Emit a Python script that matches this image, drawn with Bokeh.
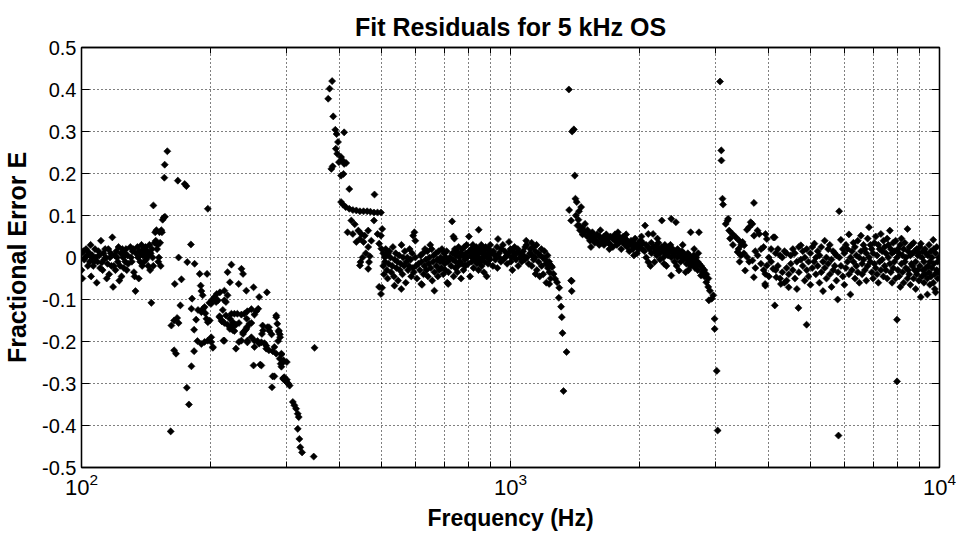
import numpy as np
from bokeh.plotting import figure
from bokeh.models import (FixedTicker, LogAxis, LinearAxis, CustomJSTickFormatter,
                          LogTickFormatter, Range1d)
from bokeh.embed import file_html
from bokeh.resources import INLINE

# ---- tick values ----
x_major_ticks = [100, 1000, 10000]
x_minor_ticks = [200, 300, 400, 500, 600, 700, 800, 900,
                 2000, 3000, 4000, 5000, 6000, 7000, 8000, 9000]
y_ticks = [-0.5, -0.4, -0.3, -0.2, -0.1, 0.0, 0.1, 0.2, 0.3, 0.4, 0.5]

# ---- data: (frequency Hz, fractional error) ----
seg_low = [
    (100, 0.01), (100, -0.03), (100.5, -0.05), (101, 0.015), (101.5, -0.005), (102, 0.0),
    (102.5, 0.02), (103, 0.005), (103.5, -0.02), (104, 0.012), (104.5, -0.01), (105, 0.03),
    (105.3, -0.045), (105.7, 0.0), (106, 0.005), (106.5, -0.02), (107, -0.01), (107.5, 0.02),
    (108, 0.0), (108.5, -0.06), (109, -0.01), (109.5, 0.015), (110, 0.005), (110.5, -0.025),
    (111, 0.04), (111.5, -0.012), (112, -0.03), (112.5, 0.01), (113, -0.005), (113.5, 0.02),
    (114, 0.0), (114.5, -0.05), (115, -0.015), (115.5, 0.02), (116, -0.04), (116.5, 0.0),
    (117, 0.01), (117.5, -0.02), (118, 0.048), (118.5, -0.07), (119, -0.02), (119.5, 0.005),
    (120, -0.03), (120.5, 0.015), (121, 0.0), (121.5, -0.01), (122, 0.025), (122.5, -0.055),
    (123, -0.02), (123.5, 0.01), (124, -0.045), (124.5, 0.02), (125, 0.0), (125.5, -0.025),
    (126, 0.01), (126.5, -0.01), (127, 0.02), (127.5, -0.03), (128, 0.005), (128.5, -0.015),
    (130, 0.025), (130.5, 0.0), (131, -0.01), (131.5, 0.015), (132, 0.02), (132.5, -0.035),
    (133, -0.045), (133.6, -0.08), (134, 0.01), (135, 0.025), (135.5, 0.0), (136, -0.05),
    (136.5, 0.015), (137, -0.01), (137.5, 0.01), (138, 0.03), (138.5, -0.02), (139, 0.005),
    (139.5, 0.02), (140, -0.01), (140.5, 0.01), (141, 0.025), (141.5, -0.005), (142, 0.0),
    (142.5, 0.015), (143, -0.02), (143.5, 0.005), (144, 0.03), (144.5, -0.03), (145, 0.01),
    (145.5, -0.108), (146, 0.02), (146.5, 0.0), (147, -0.02), (147.1, 0.124), (148, 0.035),
    (148.5, 0.06), (149, 0.04), (149.5, 0.065), (150, 0.02), (150.5, 0.03), (151, -0.01),
    (151.5, 0.0), (152, 0.06), (152.5, 0.035), (153, -0.02), (153.5, 0.065), (154, 0.06),
    (154.6, 0.09), (155.5, 0.095), (156.5, 0.097), (156, 0.19), (156.3, 0.221), (158.5, 0.253),
]

seg_drop = [
    (162, -0.162), (164.4, -0.15), (167.1, -0.144), (168.4, -0.156), (164.4, -0.221),
    (166.1, -0.229), (165, -0.063), (168.4, 0.0), (171, -0.052), (170, -0.114), (176.4, -0.011),
    (179.9, 0.031), (181, -0.098), (180.4, -0.122), (183.5, -0.015), (183, -0.172), (185, -0.148),
    (180.4, -0.259), (183, -0.223), (188.6, -0.039), (189.6, -0.067), (190.3, -0.08),
    (191.6, -0.09), (192, -0.122), (186.9, -0.125), (194.4, -0.133), (195.6, -0.146),
    (196.2, -0.039), (186.3, -0.199), (190.3, -0.206), (196.9, -0.198), (199, -0.15),
    (200.6, -0.19), (202.4, -0.215), (198.6, -0.108), (201.3, -0.101), (204.1, -0.094),
    (206.6, -0.087), (208, -0.102), (210.2, -0.083), (215.3, -0.079), (219, -0.09),
    (217.1, -0.106), (213.5, -0.125), (209.8, -0.14), (212.4, -0.152), (215.3, -0.156),
    (219, -0.16), (214.2, -0.198), (219, -0.035), (223.6, -0.017), (221.8, -0.059), (236, -0.027),
    (238, -0.039), (232.5, -0.063), (223.6, -0.134), (227.2, -0.134), (230.9, -0.134),
    (235.9, -0.136), (239.7, -0.134), (243.6, -0.128), (248.9, -0.123), (221.8, -0.146),
    (225.4, -0.154), (229.1, -0.16), (232.8, -0.156), (224.4, -0.167), (227.2, -0.175),
    (229.1, -0.217), (238, -0.182), (240.6, -0.174), (242.8, -0.166), (235.9, -0.198),
    (243.6, -0.202), (248.9, -0.19), (253, -0.198), (257.2, -0.199), (262.6, -0.202),
    (267, -0.204), (269.6, -0.21), (242.2, -0.079), (251.8, -0.071), (242.8, -0.146),
    (248.9, -0.156), (253, -0.136), (255.6, -0.128), (258.2, -0.122), (259.5, -0.094),
    (270.5, -0.083), (251.8, -0.257), (262.6, -0.257), (263.4, -0.182), (265, -0.174),
    (271.3, -0.166), (274.3, -0.175), (277.4, -0.183), (281.6, -0.213), (284.4, -0.229),
    (284.4, -0.142), (288.2, -0.174), (289.9, -0.183), (287.3, -0.199), (292.4, -0.231),
    (291.3, -0.253), (295.8, -0.245), (281.6, -0.283), (295.3, -0.287), (301, -0.291),
    (190.3, -0.13), (193.6, -0.118), (200.6, -0.11), (206, -0.106), (215.3, -0.102),
    (197, -0.154), (209.8, -0.142), (212.4, -0.15), (217.1, -0.138), (223.6, -0.162),
    (225.4, -0.173), (221.8, -0.17), (238, -0.178), (242.2, -0.17), (246.3, -0.158),
    (264.4, -0.162), (273.5, -0.166), (284.4, -0.138), (286, -0.158), (288.2, -0.177),
    (290.4, -0.19), (193.6, -0.201), (200.6, -0.201), (202.4, -0.213), (215.3, -0.198),
    (232.8, -0.201), (243.6, -0.198), (253, -0.213), (259.5, -0.205), (269.6, -0.217),
    (273.5, -0.221), (279, -0.223), (292.4, -0.229), (289.9, -0.241), (295.3, -0.249),
    (301, -0.249), (261, -0.255), (292.4, -0.26), (279, -0.283), (278, -0.309),
    (295.3, -0.289), (297.9, -0.292), (301, -0.297), (303.2, -0.3), (305.6, -0.305),
    (297, -0.285), (310.9, -0.344), (313.5, -0.352), (316.4, -0.36), (319.2, -0.372),
    (320.9, -0.38), (319.2, -0.408), (322, -0.432), (323.6, -0.452), (326.7, -0.464),
    (347.8, -0.474), (161.4, -0.414), (176, -0.31), (178, -0.35), (197, 0.116),
    (167.7, 0.183), (174, 0.175), (175.6, 0.17), (349.3, -0.215),
]

seg_jump1 = [
    (383.9, 0.42), (378.7, 0.402), (375.9, 0.378), (386.2, 0.336), (390.5, 0.304),
    (393.2, 0.294), (409.5, 0.298), (396.2, 0.275), (391.6, 0.259), (394.6, 0.247),
    (402.8, 0.239), (406.1, 0.231), (409.5, 0.223), (398.2, 0.227), (385, 0.217),
    (382.3, 0.211), (413.9, 0.225), (402.8, 0.195), (408, 0.199), (420.9, 0.163),
    (481.9, 0.15), (402.8, 0.132), (406.7, 0.126), (413, 0.12), (420.9, 0.116), (429, 0.113),
    (437.2, 0.112), (445.7, 0.11), (454.4, 0.11), (463.3, 0.11), (471.6, 0.109),
    (480.6, 0.107), (489.8, 0.107), (499, 0.107), (425.6, 0.088), (433.5, 0.079),
    (441.9, 0.064), (449.1, 0.056), (457.3, 0.052), (465.9, 0.064), (480.6, 0.088),
    (417, 0.06), (429, 0.056), (445.7, 0.044), (454.4, 0.037), (437.2, 0.037), (489.8, 0.056),
    (499, 0.052), (502.3, 0.068), (465.9, 0.025), (473.8, 0.04), (494.2, 0.033), (500, 0.021),
    (445.7, -0.019), (465.9, -0.027), (447, -0.011), (452, 0.0), (460, 0.01), (470, 0.003),
    (468, -0.011), (508.9, 0.001), (518, 0.009), (494, -0.07), (502, -0.072), (499, -0.087),
    (536.5, -0.067), (556.5, -0.075), (619.5, -0.063), (664.6, -0.079), (715.7, -0.063),
]

seg_mid = [
    (505, 0.01), (505, -0.02), (507, -0.04), (510, -0.01), (512, 0.02), (515, -0.03),
    (515, 0.005), (517, -0.05), (520, -0.015), (522, 0.015), (525, 0.0), (527, -0.035),
    (530, -0.02), (532, 0.025), (535, -0.045), (537, -0.005), (540, 0.01), (542, -0.025),
    (545, -0.01), (547, -0.055), (550, 0.005), (552, -0.03), (555, -0.015), (557, 0.03),
    (560, -0.04), (562, 0.0), (565, -0.02), (567, 0.015), (570, -0.06), (572, -0.01),
    (575, 0.0), (577, -0.03), (580, -0.02), (582, 0.02), (585, -0.005), (587, -0.045),
    (590, 0.01), (592, -0.025), (595, -0.035), (597, 0.06), (593, 0.052), (600, 0.04),
    (600, 0.0), (602, -0.02), (605, -0.05), (610, -0.015), (615, -0.03), (617, 0.005),
    (620, -0.01), (622, -0.065), (625, 0.01), (627, -0.04), (630, -0.02), (632, 0.02),
    (635, -0.005), (637, -0.03), (640, 0.015), (642, -0.045), (645, -0.015), (647, 0.0),
    (650, 0.03), (652, -0.025), (655, 0.02), (657, -0.055), (660, -0.01), (662, 0.005),
    (665, -0.035), (670, 0.01), (672, -0.02), (675, -0.005), (677, -0.045), (680, 0.015),
    (682, -0.03), (685, -0.01), (687, 0.0), (690, -0.025), (692, 0.02), (695, -0.005),
    (697, -0.04), (700, 0.01), (702, -0.015), (705, -0.03), (707, 0.0), (710, 0.015),
    (712, -0.06), (715, -0.01), (717, -0.035), (731, 0.086), (722, 0.0), (736, 0.05),
    (727, -0.02), (740, 0.045), (732, 0.01), (735, -0.005), (737, -0.045), (742, 0.02),
    (744, -0.025), (745, -0.01), (747, 0.005), (750, 0.015), (752, -0.035), (755, -0.02),
    (757, 0.025), (760, 0.0), (762, -0.01), (765, 0.01), (767, -0.05), (770, -0.015),
    (772, 0.02), (775, 0.005), (777, -0.03), (780, 0.025), (782, -0.005), (785, -0.02),
    (787, 0.01), (790, 0.03), (792, 0.0), (843, 0.066), (797, -0.015), (800, 0.05),
    (802, 0.015), (805, -0.045), (807, 0.005), (810, 0.02), (812, -0.01), (815, 0.0),
    (817, 0.03), (820, -0.025), (822, 0.01), (825, 0.015), (827, -0.005), (830, 0.005),
    (832, 0.025), (835, -0.015), (837, 0.0), (840, 0.02), (842, -0.03), (845, 0.01),
    (847, -0.01), (850, -0.005), (852, 0.02), (855, 0.03), (857, -0.02), (860, 0.0),
    (862, 0.01), (865, 0.015), (867, -0.035), (870, -0.01), (872, 0.02), (875, 0.025),
    (877, 0.005), (880, -0.045), (882, 0.0), (885, 0.01), (887, -0.015), (890, 0.02),
    (892, 0.0), (895, -0.005), (897, 0.03), (935, 0.044), (902, 0.01), (910, -0.02),
    (912, 0.015), (920, 0.005), (922, -0.005), (930, 0.025), (932, -0.025), (940, 0.01),
    (942, 0.0), (950, -0.01), (952, 0.02), (960, 0.03), (962, -0.005), (970, 0.015),
    (972, 0.0), (980, 0.005), (982, -0.015), (992, 0.037), (990, 0.01), (1000, 0.02),
    (1002, -0.01), (1005, 0.0), (1010, -0.03), (1012, 0.015), (1020, 0.005), (1022, 0.025),
    (1030, -0.005), (1032, 0.01), (1040, 0.02), (1042, -0.02), (1050, 0.01), (1052, 0.0),
    (1088, 0.04), (1062, -0.01), (1070, 0.015), (1072, 0.005), (1080, -0.005), (1082, 0.025),
    (1090, 0.03), (1092, 0.0), (1120, 0.035), (1102, -0.015), (1110, 0.01), (1112, 0.02),
    (1121, -0.02), (1123, 0.005), (1130, 0.025), (1132, -0.005), (1140, 0.0), (1142, 0.015),
    (1150, 0.03), (1152, -0.03), (1160, 0.01), (1162, -0.01), (1170, -0.045), (1172, 0.005),
    (1180, 0.02), (1182, -0.02), (1190, 0.0), (1192, -0.04), (1200, 0.015), (1202, -0.005),
    (1210, -0.015), (1212, -0.06), (1220, 0.005), (1222, -0.025), (1230, -0.01),
    (1232, -0.035), (1144, -0.039),
    (1231, -0.063), (1299, -0.072), (1296, -0.096), (1312, -0.117), (1317, -0.142),
    (1322, -0.18), (1351, -0.225), (1329, -0.318), (1389, -0.056), (1389, -0.08),
    (1231, -0.015), (1250, -0.023), (1260, -0.039), (1271, -0.051), (1284, -0.059),
    (1385, -0.055), (1240, -0.05), (1245, -0.02),
]

seg_jump2 = [
    (1368, 0.40), (1392, 0.30), (1405, 0.305), (1412, 0.195), (1417, 0.14), (1370, 0.113),
    (1385, 0.088), (1444, 0.11), (1433, 0.076), (1427, 0.132), (1461, 0.12), (1420, 0.1),
    (1440, 0.09),
    (1450, 0.075), (1452, 0.065), (1470, 0.07), (1472, 0.055), (1490, 0.06), (1492, 0.08),
    (1510, 0.05), (1512, 0.065), (1530, 0.055), (1532, 0.04), (1550, 0.045), (1552, 0.06),
    (1570, 0.05), (1572, 0.035), (1590, 0.04), (1592, 0.055), (1610, 0.03), (1612, 0.05),
    (1630, 0.045), (1632, 0.035), (1650, 0.05), (1652, 0.03), (1670, 0.04), (1672, 0.055),
    (1690, 0.035), (1692, 0.045), (1710, 0.05), (1712, 0.03), (1730, 0.045), (1732, 0.025),
    (1750, 0.04), (1752, 0.055), (1770, 0.03), (1772, 0.045), (1790, 0.05), (1792, 0.035),
    (1810, 0.04), (1812, 0.02), (1830, 0.035), (1832, 0.05), (1850, 0.045), (1852, 0.03),
    (1870, 0.025), (1872, 0.04), (1890, 0.035), (1892, 0.015), (1910, 0.04), (1912, 0.03),
    (1930, 0.02), (1932, 0.035), (1950, 0.03), (1952, 0.045), (1970, 0.025), (1972, 0.01),
    (1990, 0.035), (1992, 0.02), (2010, 0.03), (2012, 0.04), (2030, 0.02), (2032, 0.035),
    (2059, 0.076), (2052, 0.015), (2070, 0.03), (2072, 0.0), (2095, 0.056), (2092, 0.025),
    (2110, 0.02), (2095, -0.011), (2130, 0.035), (2132, 0.01), (2149, 0.056), (2152, 0.025),
    (2166, -0.011), (2172, 0.015), (2190, 0.03), (2192, 0.005), (2210, 0.02), (2212, 0.035),
    (2230, 0.01), (2232, -0.005), (2253, 0.088), (2252, 0.025), (2270, 0.015), (2272, 0.0),
    (2290, 0.03), (2292, 0.01), (2310, -0.02), (2312, 0.02), (2330, 0.005), (2332, 0.025),
    (2370, 0.092), (2352, 0.015), (2370, -0.043), (2372, 0.0), (2390, 0.02), (2392, 0.01),
    (2410, 0.005), (2412, -0.01), (2430, 0.084), (2432, 0.015), (2450, 0.0), (2452, 0.02),
    (2470, -0.031), (2472, 0.01), (2490, 0.005), (2492, -0.01), (2510, 0.015), (2512, 0.0),
    (2530, -0.005), (2532, 0.01), (2560, -0.035), (2552, 0.005), (2570, 0.0), (2572, -0.015),
    (2590, 0.01), (2592, -0.005), (2610, -0.01), (2612, 0.005), (2630, 0.06), (2632, -0.02),
    (2650, 0.0), (2652, -0.01), (2670, -0.015), (2672, 0.005), (2690, -0.005), (2692, -0.025),
    (2710, -0.02), (2712, 0.0), (2730, -0.01), (2732, -0.03), (2750, 0.06), (2752, -0.015),
    (2780, -0.043), (2782, -0.02), (2800, -0.025), (2802, -0.035), (2830, -0.03),
    (2832, -0.045), (2860, -0.059), (2862, -0.04), (2890, -0.07), (2892, -0.05), (2900, -0.102),
    (2915, -0.079), (2945, -0.098), (2970, -0.09), (2990, -0.146), (2992, -0.17),
    (3025, -0.27), (3040, -0.412),
    (1540, 0.025), (1620, 0.065), (1700, 0.02), (1780, 0.06), (1860, 0.055), (1940, 0.005),
    (2020, 0.05), (2120, -0.02), (2200, 0.045), (2280, -0.015), (2360, 0.03), (2440, -0.02),
    (2520, 0.03), (2600, -0.03), (2680, 0.02), (2740, 0.01),
]

seg_high = [
    (3079, 0.419), (3100, 0.255), (3102, 0.231), (3120, 0.14), (3130, 0.126), (3694, 0.13),
    (3216, 0.092), (3234, 0.064), (3293, 0.056), (3353, 0.048), (3413, 0.04), (3475, 0.037),
    (3505, 0.029), (3630, 0.084), (3598, 0.072), (3765, 0.064), (3696, 0.052), (3800, 0.056),
    (3958, 0.044), (4129, 0.048), (3890, 0.025), (3206, 0.088), (3175, 0.08), (3662, 0.08),
    (3558, 0.066), (3383, 0.013), (3445, 0.005), (3560, 0.001), (3664, -0.007), (3767, 0.005),
    (3835, -0.015), (3960, -0.019), (4095, -0.027), (3524, -0.031), (3692, -0.047),
    (3925, -0.039), (4165, -0.047), (4269, -0.063), (4402, -0.055), (3927, -0.067),
    (4450, -0.071), (3930, 0.056), (4100, 0.048), (4131, -0.114), (4690, -0.12),
    (4900, -0.16), (3922, -0.063), (3250, 0.045), (3300, 0.03), (3400, 0.02), (3420, -0.01),
    (3450, 0.03), (3500, 0.01), (3600, -0.01), (3720, 0.015), (3722, -0.025), (3838, 0.02),
    (3892, -0.03), (4000, 0.0), (4002, -0.045), (4050, 0.02), (4052, -0.01),
    (4150, 0.01), (4152, -0.03), (4200, -0.02), (4202, 0.02), (4250, -0.05), (4252, 0.005),
    (4300, 0.0), (4302, -0.035), (4350, -0.06), (4352, 0.015), (4400, 0.01), (4402, -0.025),
    (4452, -0.04), (4500, 0.005), (4502, -0.015), (4550, -0.03), (4552, 0.02), (4600, 0.01),
    (4602, -0.05), (4650, -0.01), (4652, -0.075), (4700, 0.025), (4702, -0.035), (4750, 0.029),
    (4752, -0.005), (4800, -0.02), (4802, 0.015), (4850, -0.055), (4852, 0.0), (4902, 0.02),
    (4904, -0.03), (4950, -0.01), (4952, -0.045), (5000, 0.01), (5002, -0.065), (5050, -0.025),
    (5052, 0.025), (5110, 0.033), (5102, -0.01), (5150, -0.04), (5152, 0.0), (5200, 0.015),
    (5202, -0.02), (5250, -0.06), (5252, 0.005), (5300, 0.025), (5302, -0.035), (5350, -0.01),
    (5352, -0.08), (5400, 0.04), (5402, -0.025), (5450, 0.0), (5452, -0.05), (5500, -0.015),
    (5502, 0.02), (5550, 0.03), (5552, -0.04), (5600, -0.005), (5602, -0.07), (5650, 0.015),
    (5652, -0.03), (5700, -0.02), (5702, 0.01), (5750, 0.005), (5752, -0.055), (5790, -0.1),
    (5802, -0.035), (5815, -0.424), (5836, 0.11), (5842, 0.0), (5890, 0.042), (5892, -0.02),
    (5950, -0.045), (5952, 0.02), (6000, 0.01), (6002, -0.065), (6050, -0.025), (6052, 0.03),
    (6100, 0.02), (6102, -0.01), (6150, 0.055), (6152, -0.04), (6200, -0.088), (6202, 0.0),
    (6250, 0.015), (6252, -0.03), (6300, -0.01), (6302, 0.035), (6350, 0.025), (6352, -0.05),
    (6400, -0.02), (6402, 0.005), (6450, 0.04), (6452, -0.035), (6500, 0.0), (6502, -0.06),
    (6560, 0.052), (6562, 0.015), (6600, -0.015), (6602, -0.04), (6650, 0.03), (6652, -0.005),
    (6700, -0.03), (6702, 0.02), (6750, 0.01), (6752, -0.055), (6800, 0.045), (6802, -0.02),
    (6850, 0.072), (6852, 0.0), (6900, -0.01), (6902, 0.03), (6950, 0.02), (6952, -0.035),
    (7000, -0.05), (7002, 0.01), (7050, 0.035), (7052, -0.015), (7100, -0.025), (7102, 0.05),
    (7150, 0.005), (7152, -0.04), (7200, 0.03), (7202, -0.06), (7250, -0.01), (7252, 0.02),
    (7300, 0.056), (7302, -0.03), (7350, 0.015), (7352, -0.005), (7400, -0.045), (7402, 0.04),
    (7450, 0.025), (7452, -0.02), (7500, -0.03), (7502, 0.01), (7550, 0.045), (7552, -0.05),
    (7600, 0.0), (7602, 0.03), (7660, 0.064), (7662, -0.015), (7700, -0.035), (7702, 0.02),
    (7750, 0.01), (7752, -0.06), (7800, 0.035), (7802, -0.025), (7850, -0.01), (7852, 0.015),
    (7900, -0.05), (7902, 0.04), (7960, -0.148), (7962, -0.295), (7964, 0.0), (8000, 0.02),
    (8002, -0.03), (8050, -0.045), (8052, 0.01), (8100, 0.03), (8102, -0.07), (8150, -0.015),
    (8152, 0.045), (8200, 0.005), (8202, -0.035), (8250, -0.06), (8252, 0.02), (8300, 0.035),
    (8302, -0.01), (8350, -0.025), (8352, 0.0), (8420, 0.068), (8422, -0.05), (8450, 0.015),
    (8452, -0.03), (8500, -0.04), (8502, 0.025), (8550, 0.005), (8552, -0.065), (8600, 0.03),
    (8602, -0.015), (8650, -0.02), (8652, 0.01), (8700, -0.05), (8702, 0.035), (8750, 0.015),
    (8752, -0.03), (8800, -0.01), (8802, -0.075), (8850, 0.02), (8852, -0.04), (8900, -0.03),
    (8902, 0.005), (8950, 0.01), (8952, -0.055), (9000, -0.02), (9002, 0.025), (9044, -0.094),
    (9046, 0.033), (9100, -0.045), (9102, 0.0), (9150, 0.015), (9152, -0.03), (9200, -0.06),
    (9202, -0.01), (9250, 0.02), (9252, -0.04), (9300, -0.025), (9302, 0.01), (9370, -0.088),
    (9372, -0.05), (9400, 0.005), (9402, -0.02), (9450, -0.035), (9452, 0.03), (9500, -0.065),
    (9502, -0.01), (9550, 0.015), (9552, -0.045), (9600, -0.025), (9602, 0.0), (9670, 0.042),
    (9672, -0.06), (9700, -0.015), (9702, 0.02), (9750, -0.04), (9752, -0.075), (9790, -0.083),
    (9792, 0.01), (9850, -0.03), (9852, 0.025), (9900, -0.05), (9902, -0.01), (9950, 0.0),
    (9952, -0.035),
]

segments = [seg_low, seg_drop, seg_jump1, seg_mid, seg_jump2, seg_high]
freq = [f for s in segments for f, e in s]
err = [e for s in segments for f, e in s]

FONT = "Liberation Sans"

p = figure(width=956, height=536, x_axis_type="log",
           x_range=Range1d(100, 10000), y_range=Range1d(-0.5, 0.5),
           output_backend="svg", toolbar_location=None,
           title="Fit Residuals for 5 kHz OS",
           min_border_left=80, min_border_right=17,
           min_border_top=47, min_border_bottom=69,
           background_fill_color="white", border_fill_color="white")

p.title.text_font = FONT
p.title.text_font_size = "25px"
p.title.text_font_style = "bold"
p.title.align = "center"
p.title.text_color = "black"
p.title.text_line_height = 0.8
p.title.standoff = 14

xticker = FixedTicker(ticks=x_major_ticks, minor_ticks=x_minor_ticks)
yticker = FixedTicker(ticks=y_ticks)
yfmt = CustomJSTickFormatter(code="""
    const v = Math.round(tick * 10) / 10;
    return (v === 0) ? '0' : v.toString();
""")

xa = p.xaxis[0]
xa.ticker = xticker
xa.formatter = LogTickFormatter()
xa.axis_label = "Frequency (Hz)"
ya = p.yaxis[0]
ya.ticker = yticker
ya.formatter = yfmt
ya.axis_label = "Fractional Error E"

for ax in (xa, ya):
    ax.axis_label_text_font = FONT
    ax.axis_label_text_font_style = "bold"
    ax.axis_label_text_color = "black"
    ax.major_label_text_font = FONT
    ax.major_label_text_color = "black"
    ax.axis_line_color = "black"
    ax.axis_line_width = 1.3
    ax.major_tick_line_color = "black"
    ax.minor_tick_line_color = "black"
    ax.major_tick_out = 0
    ax.minor_tick_out = 0

xa.axis_label_text_font_size = "23px"
xa.major_label_text_font_size = "22px"
xa.major_tick_in = 7
xa.minor_tick_in = 6
xa.major_label_standoff = 5
xa.axis_label_standoff = 7

ya.axis_label_text_font_size = "25px"
ya.major_label_text_font_size = "20px"
ya.major_tick_in = 8
ya.minor_tick_line_color = None
ya.major_label_standoff = 5
ya.axis_label_standoff = 8

# top and right axes (box with inward ticks, labels hidden)
blank = CustomJSTickFormatter(code="return '';")
top = LogAxis(ticker=xticker, formatter=blank, major_label_text_font_size="1px",
              major_label_text_color=None, major_label_standoff=0,
              major_tick_in=7, major_tick_out=0, minor_tick_in=6, minor_tick_out=0,
              axis_line_color="black", axis_line_width=1.3)
p.add_layout(top, "above")
right = LinearAxis(ticker=yticker, formatter=blank, major_label_text_font_size="1px",
                   major_label_text_color=None, major_label_standoff=0,
                   major_tick_in=8, major_tick_out=0, minor_tick_line_color=None,
                   axis_line_color="black", axis_line_width=1.3)
p.add_layout(right, "right")

# dotted grid
p.xgrid.ticker = xticker
p.ygrid.ticker = yticker
for g in (p.xgrid[0], p.ygrid[0]):
    g.grid_line_color = "black"
    g.grid_line_dash = "1 3"
    g.grid_line_width = 1
p.xgrid.minor_grid_line_color = "black"
p.xgrid.minor_grid_line_dash = "1 3"
p.xgrid.minor_grid_line_width = 1

p.outline_line_color = "black"
p.outline_line_width = 1.3

p.scatter(x=freq, y=err, marker="square", angle=np.pi / 4, size=5,
          fill_color="black", line_color="black", line_width=0.6)

open("out.html", "w").write(file_html(p, INLINE))
